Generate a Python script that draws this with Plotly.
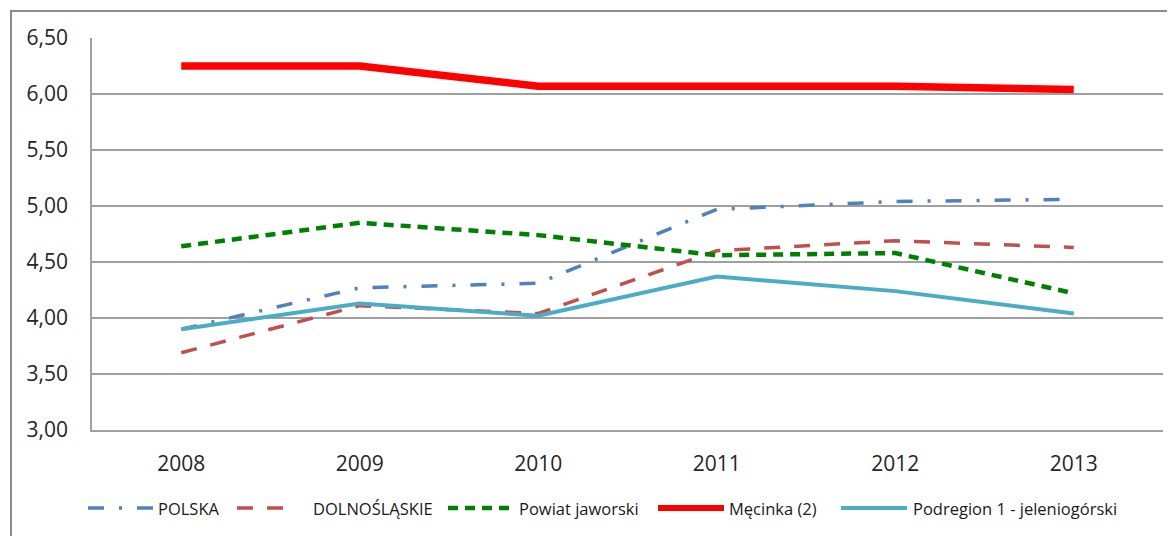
import plotly.graph_objects as go

years = ["2008", "2009", "2010", "2011", "2012", "2013"]
polska = [3.90, 4.27, 4.31, 4.97, 5.04, 5.06]
dolnoslaskie = [3.69, 4.11, 4.04, 4.60, 4.69, 4.63]
powiat_jaworski = [4.64, 4.85, 4.74, 4.56, 4.58, 4.22]
mecinka = [6.25, 6.25, 6.07, 6.07, 6.07, 6.04]
podregion = [3.90, 4.13, 4.02, 4.37, 4.24, 4.04]

names = ["POLSKA", "DOLNOŚLĄSKIE", "Powiat jaworski", "Męcinka (2)", "Podregion 1 - jeleniogórski"]
values = [polska, dolnoslaskie, powiat_jaworski, mecinka, podregion]
colors = ["#4F81BD", "#C0504D", "#008000", "#FF0000", "#4BACC6"]
widths = [3.5, 3.5, 4.5, 7.5, 4]
dashes = ["16px,15px,3px,15px", "16px,14px", "10px,7px", "solid", "solid"]

fig = go.Figure()
for name, vals, color, w, dash in zip(names, values, colors, widths, dashes):
    fig.add_trace(go.Scatter(
        x=years, y=vals, name=name, mode="lines",
        line=dict(color=color, width=w, dash=dash),
        showlegend=False,
    ))

# geometry of the plot area in the screenshot (page has an 8px body margin)
PL, PR, PT, PB = 92, 1163, 38, 430


def px_x(p):
    return (p - PL) / (PR - PL)


def px_y(p):
    return (PB - p) / (PB - PT)


font = "Open Sans"
txt = "#262626"

# hand-laid legend, like the original Excel legend row
leg_y = 508
leg_items = [  # (symbol start, symbol end, text start)
    (88, 154, 156),
    (237, 291, 311),
    (448, 514, 517),
    (658, 724, 727),
    (841, 907, 911),
]
shapes = [dict(
    type="rect", xref="paper", yref="paper",
    x0=px_x(11), x1=px_x(1200), y0=px_y(560), y1=px_y(11),
    line=dict(color="#8C8C8C", width=2), fillcolor="rgba(0,0,0,0)",
    layer="below",
)]
annotations = []
for (s0, s1, t0), name, color, w, dash in zip(leg_items, names, colors, widths, dashes):
    shapes.append(dict(
        type="line", xref="paper", yref="paper",
        x0=px_x(s0), x1=px_x(s1), y0=px_y(leg_y), y1=px_y(leg_y),
        line=dict(color=color, width=min(w, 6), dash=dash),
    ))
    annotations.append(dict(
        xref="paper", yref="paper", x=px_x(t0), y=px_y(leg_y),
        xanchor="left", yanchor="middle", showarrow=False,
        text=name, font=dict(size=16.5, family=font, color="#1a1a1a"),
    ))

fig.update_layout(
    width=1175, height=536,
    margin=dict(l=84, r=20, t=30, b=114, autoexpand=False),
    paper_bgcolor="white", plot_bgcolor="white",
    separators=",.",
    font=dict(family=font, color=txt),
    xaxis=dict(
        type="category", range=[-0.5, 5.5],
        showgrid=False, showline=True, linecolor="#A0A0A0", linewidth=1.5,
        ticks="", tickfont=dict(size=21, family=font, color=txt),
        ticklabelstandoff=14,
    ),
    yaxis=dict(
        range=[3.0, 6.5], dtick=0.5, tickformat=".2f",
        showgrid=True, gridcolor="#A0A0A0", gridwidth=1.5,
        showline=True, linecolor="#A0A0A0", linewidth=1.5,
        zeroline=False, ticks="",
        tickfont=dict(size=21, family=font, color=txt),
        ticklabelstandoff=18,
    ),
    showlegend=False,
    shapes=shapes,
    annotations=annotations,
)

fig.write_html("out.html")
